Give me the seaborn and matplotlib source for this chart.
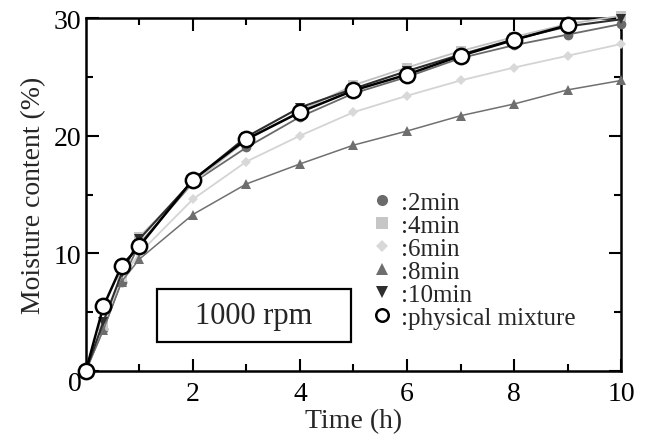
import numpy as np
import pandas as pd
import matplotlib
matplotlib.use("Agg")
import matplotlib.pyplot as plt
import matplotlib.transforms as mtransforms
from matplotlib.lines import Line2D
from matplotlib.patches import Rectangle
import seaborn as sns

# data
time_h = [0, 0.33, 0.67, 1, 2, 3, 4, 5, 6, 7, 8, 9, 10]
min2 = [0, 3.6, 7.6, 10.8, 16.0, 19.0, 21.6, 23.6, 25.0, 26.6, 27.7, 28.6, 29.5]
min4 = [0, 3.8, 8.0, 11.4, 16.0, 19.6, 22.1, 24.3, 25.8, 27.2, 28.4, 29.5, 30.2]
min6 = [0, 4.0, 7.8, 10.0, 14.6, 17.8, 20.0, 22.0, 23.4, 24.7, 25.8, 26.8, 27.8]
min8 = [0, 3.5, 7.6, 9.5, 13.3, 15.9, 17.6, 19.2, 20.4, 21.7, 22.7, 23.9, 24.7]
min10 = [0, 4.2, 8.3, 11.2, 16.2, 19.9, 22.4, 24.0, 25.5, 26.9, 28.2, 29.3, 29.9]
phys_time = [0, 0.33, 0.67, 1, 2, 3, 4, 5, 6, 7, 8, 9]
phys = [0, 5.5, 8.95, 10.6, 16.25, 19.7, 22.0, 23.85, 25.2, 26.8, 28.15, 29.4]

labels = [":2min", ":4min", ":6min", ":8min", ":10min", ":physical mixture"]

sns.set_theme(style="ticks")
plt.rcParams['font.family'] = ['Liberation Serif', 'DejaVu Serif']

fig = plt.figure(figsize=(6.45, 4.35), dpi=100)
ax = fig.add_axes([0.133, 0.145, 0.830, 0.811])

# (label, x, y, marker, marker colour, line colour, line width, marker size)
series = [
    (labels[0], time_h, min2, 'o', '#6a6a6a', '#6a6a6a', 1.3, 7),
    (labels[1], time_h, min4, 's', '#c6c6c6', '#c0c0c0', 1.3, 7),
    (labels[2], time_h, min6, 'D', '#d8d8d8', '#d4d4d4', 1.3, 5.5),
    (labels[3], time_h, min8, '^', '#6e6e6e', '#707070', 1.1, 7.5),
    (labels[4], time_h, min10, 'v', '#2e2e2e', '#2e2e2e', 1.5, 7.5),
]

handles = []
for lab, xs, ys, m, mc, lc, lw, ms in series:
    df = pd.DataFrame({'t': xs, 'v': ys})
    sns.lineplot(data=df, x='t', y='v', ax=ax, color=lc, linewidth=lw,
                 marker=m, markersize=ms, markerfacecolor=mc,
                 markeredgecolor=mc, markeredgewidth=0, zorder=3, clip_on=False)
    handles.append(Line2D([], [], linestyle='none', marker=m, markersize=ms + 1,
                          markerfacecolor=mc, markeredgewidth=0))

df_p = pd.DataFrame({'t': phys_time, 'v': phys})
sns.lineplot(data=df_p, x='t', y='v', ax=ax, color='black', linewidth=1.8,
             marker='o', markersize=11, markerfacecolor='white',
             markeredgecolor='black', markeredgewidth=1.8, zorder=4, clip_on=False)
handles.append(Line2D([], [], linestyle='none', marker='o', markersize=9,
                      markerfacecolor='white', markeredgecolor='black',
                      markeredgewidth=1.8))

ax.set_xlim(0, 10)
ax.set_ylim(0, 30)
ax.set_xticks([2, 4, 6, 8, 10])
ax.set_xticks([1, 3, 5, 7, 9], minor=True)
ax.set_yticks([0, 10, 20, 30])
ax.set_yticks([5, 15, 25], minor=True)
ax.tick_params(which='both', direction='in', top=True, right=True,
               labelsize=20, width=1.5, colors='black')
ax.tick_params(which='major', length=9)
ax.tick_params(which='minor', length=5)
ax.tick_params(axis='x', which='major', pad=7)
ax.tick_params(axis='y', which='major', pad=3)
for s in ax.spines.values():
    s.set_linewidth(1.8)
    s.set_color('black')

# the "0" label sits slightly below the corner
off = mtransforms.ScaledTranslation(0, -7 / 72, fig.dpi_scale_trans)
ax.get_yticklabels()[0].set_transform(ax.get_yticklabels()[0].get_transform() + off)

ax.set_xlabel('Time (h)', fontsize=20, labelpad=2)
ax.set_ylabel('Moisture content (%)', fontsize=20, labelpad=6)

ax.add_patch(Rectangle((0.133, 0.082), 0.362, 0.150, transform=ax.transAxes,
                       fill=False, edgecolor='black', linewidth=1.6, zorder=5))
ax.text(0.314, 0.157, '1000 rpm', transform=ax.transAxes, ha='center',
        va='center', fontsize=22)

ax.legend(handles, labels, loc='upper left', bbox_to_anchor=(0.532, 0.51),
          frameon=False, fontsize=18, handlelength=0.9, handletextpad=0.3,
          labelspacing=0.02, borderpad=0, borderaxespad=0)

fig.savefig('out.png', dpi=100, facecolor='white')
